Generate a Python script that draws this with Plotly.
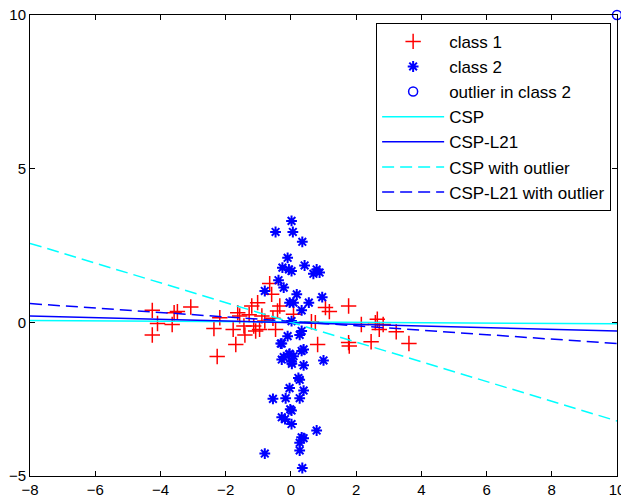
import plotly.graph_objects as go

# class 1 points (red +)
c1_x = [-4.25, -4.25, -4.09, -3.64, -3.58, -3.48, -3.07, -2.36, -2.26, -2.18, -1.77, -1.69,
        -1.63, -1.57, -1.44, -1.41, -1.28, -1.20, -1.14, -1.08, -1.02, -0.96, -0.89, -0.80,
        -0.65, -0.59, -0.55, -0.47, -0.41, -0.34, 0.08, 0.63, 0.75, 0.82, 1.06, 1.18,
        1.77, 1.77, 1.79, 2.16, 2.46, 2.59, 2.65, 2.71, 2.83, 3.23, 3.62]
c1_y = [0.39, -0.41, -0.04, -0.07, 0.31, 0.35, 0.50, -0.20, -1.11, 0.15, -0.23, -0.72,
        0.31, 0.21, -0.12, -0.41, 0.25, 0.53, -0.12, -0.28, 0.64, -0.23, 0.21, 0.04,
        1.26, 0.91, 0.13, -0.23, 0.37, 0.53, 0.26, 0.02, -0.01, -0.72, 0.48, 0.35,
        0.53, -0.66, -0.77, -0.07, -0.63, -0.01, 0.10, -0.23, -0.07, -0.31, -0.69]

# class 2 points (blue *)
c2_x = [0.02, -0.47, 0.06, 0.35, -0.10, -0.26, -0.06, 0.02, 0.42, 0.79, 0.88, 0.69,
        -0.38, -0.22, -0.80, 0.18, 0.96, -0.04, 0.08, 0.55, 0.33, 0.02, 0.33, -0.10,
        -0.28, 0.27, -0.22, -0.04, 0.02, 0.08, 0.33, 0.39, -0.28, 0.39, 1.00, 0.27,
        -0.04, 0.39, -0.16, 0.27, -0.55, 0.02, -0.28, -0.18, 0.02, 0.79, 0.39, 0.27,
        0.27, -0.80, 0.35, -0.05, 0.03, -0.31, 0.23, -0.02, 0.33]
c2_y = [3.30, 2.94, 2.94, 2.62, 2.10, 1.78, 1.72, 1.67, 1.85, 1.72, 1.62, 1.58,
        1.37, 1.13, 1.02, 0.91, 0.82, 0.64, 0.64, 0.64, 0.39, 0.04, -0.28, -0.45,
        -0.69, -0.41, -1.13, -1.02, -1.28, -1.10, -0.93, -0.88, -1.21, -1.40, -1.24, -1.87,
        -2.14, -2.22, -2.47, -2.47, -2.49, -2.87, -3.09, -3.15, -3.31, -3.52, -3.77, -3.92,
        -4.17, -4.27, -4.74, -1.04, -1.35, -0.69, -1.81, -2.83, -3.74]

# outlier
out_x = [10]
out_y = [10]

# projection lines (end points)
line_x = [-8, 10]
csp_y = [0.06, -0.05]
cspl21_y = [0.21, -0.28]
csp_out_y = [2.57, -3.21]
cspl21_out_y = [0.61, -0.69]

RED = "rgb(255,0,0)"
BLUE = "rgb(0,0,255)"
CYAN = "rgb(0,255,255)"

fig = go.Figure()
fig.add_trace(go.Scatter(x=c1_x, y=c1_y, mode="markers", name="class 1",
                         marker=dict(symbol="cross-thin-open", size=11, color=RED,
                                     line=dict(color=RED, width=1.5))))
fig.add_trace(go.Scatter(x=c2_x, y=c2_y, mode="markers", name="class 2",
                         marker=dict(symbol="asterisk-open", size=9, color=BLUE,
                                     line=dict(color=BLUE, width=2))))
fig.add_trace(go.Scatter(x=out_x, y=out_y, mode="markers", name="outlier in class 2",
                         cliponaxis=False,
                         marker=dict(symbol="circle-open", size=9, color=BLUE,
                                     line=dict(color=BLUE, width=1.5))))
fig.add_trace(go.Scatter(x=line_x, y=csp_y, mode="lines", name="CSP",
                         line=dict(color=CYAN, width=1.5)))
fig.add_trace(go.Scatter(x=line_x, y=cspl21_y, mode="lines", name="CSP-L21",
                         line=dict(color=BLUE, width=1.5)))
fig.add_trace(go.Scatter(x=line_x, y=csp_out_y, mode="lines", name="CSP with outlier",
                         line=dict(color=CYAN, width=1.5, dash="12px,6px")))
fig.add_trace(go.Scatter(x=line_x, y=cspl21_out_y, mode="lines", name="CSP-L21 with outlier",
                         line=dict(color=BLUE, width=1.5, dash="12px,6px")))

axis_common = dict(showline=True, linecolor="black", linewidth=1, mirror="ticks",
                   ticks="inside", ticklen=5, tickcolor="black", showgrid=False,
                   zeroline=False, ticklabeloverflow="allow", automargin=False,
                   tickfont=dict(family="Liberation Sans, Arial", size=15, color="black"))
fig.update_xaxes(range=[-8, 10], tickvals=[-8, -6, -4, -2, 0, 2, 4, 6, 8, 10], **axis_common)
fig.update_yaxes(range=[-5, 10], tickvals=[-5, 0, 5, 10], **axis_common)

fig.update_layout(
    width=621, height=501,
    margin=dict(l=30, r=4, t=15, b=25),
    paper_bgcolor="white", plot_bgcolor="white",
    font=dict(family="Liberation Sans, Arial", size=17, color="black"),
    legend=dict(x=0.99, y=0.983, xanchor="right", yanchor="top",
                bgcolor="white", bordercolor="black", borderwidth=1,
                font=dict(size=17), tracegroupgap=0, itemwidth=62),
)

fig.write_html("out.html")
